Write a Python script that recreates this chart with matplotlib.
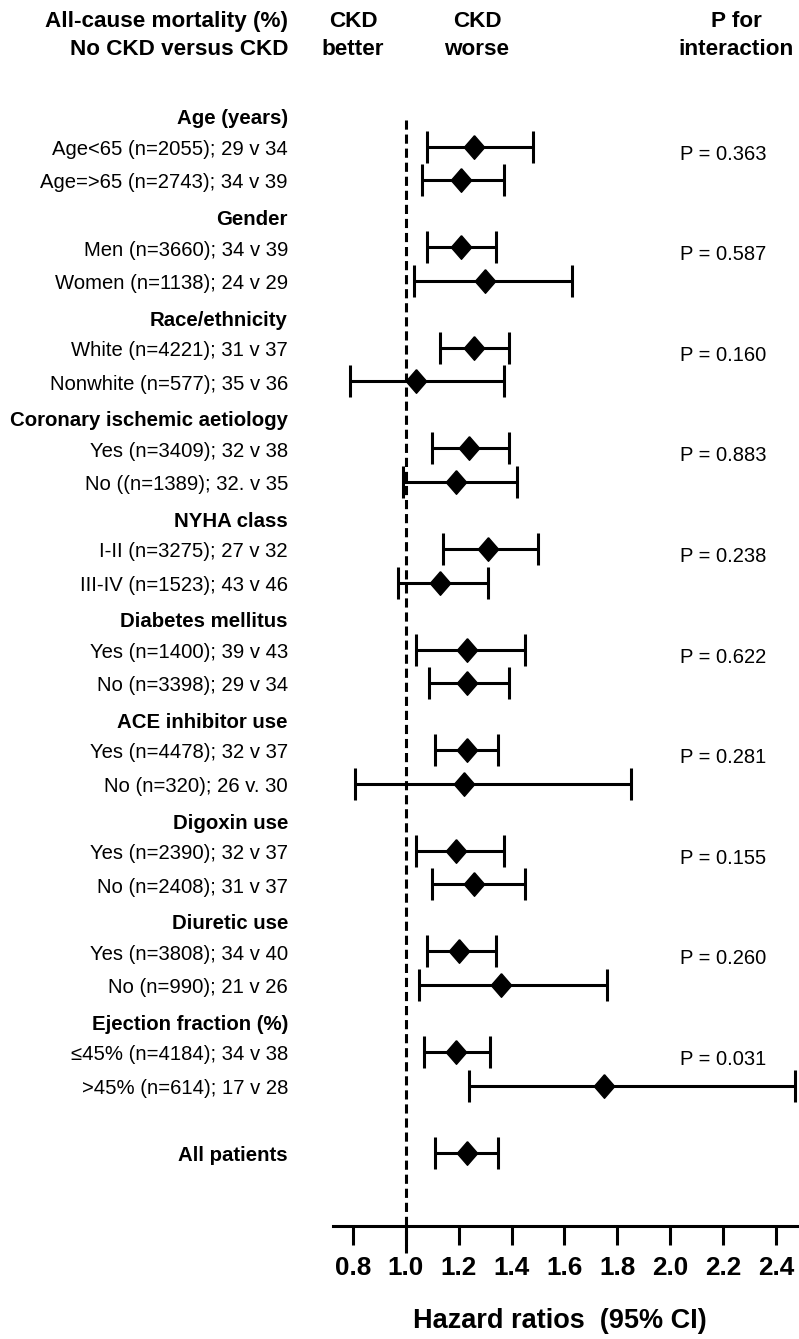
import matplotlib
matplotlib.use("Agg")
import matplotlib.pyplot as plt

plt.rcParams['font.family'] = ['Liberation Sans', 'DejaVu Sans']

# subgroup data
groups = ["Age (years)", "Gender", "Race/ethnicity", "Coronary ischemic aetiology",
          "NYHA class", "Diabetes mellitus", "ACE inhibitor use", "Digoxin use",
          "Diuretic use", "Ejection fraction (%)"]
sub_labels = [
    "Age<65 (n=2055); 29 v 34", "Age=>65 (n=2743); 34 v 39",
    "Men (n=3660); 34 v 39", "Women (n=1138); 24 v 29",
    "White (n=4221); 31 v 37", "Nonwhite (n=577); 35 v 36",
    "Yes (n=3409); 32 v 38", "No ((n=1389); 32. v 35",
    "I-II (n=3275); 27 v 32", "III-IV (n=1523); 43 v 46",
    "Yes (n=1400); 39 v 43", "No (n=3398); 29 v 34",
    "Yes (n=4478); 32 v 37", "No (n=320); 26 v. 30",
    "Yes (n=2390); 32 v 37", "No (n=2408); 31 v 37",
    "Yes (n=3808); 34 v 40", "No (n=990); 21 v 26",
    "\u226445% (n=4184); 34 v 38", ">45% (n=614); 17 v 28",
]
hr = [1.26, 1.21, 1.21, 1.30, 1.26, 1.04, 1.24, 1.19, 1.31, 1.13,
      1.23, 1.23, 1.23, 1.22, 1.19, 1.26, 1.20, 1.36, 1.19, 1.75]
ci_low = [1.08, 1.06, 1.08, 1.03, 1.13, 0.79, 1.10, 0.99, 1.14, 0.97,
          1.04, 1.09, 1.11, 0.81, 1.04, 1.10, 1.08, 1.05, 1.07, 1.24]
ci_high = [1.48, 1.37, 1.34, 1.63, 1.39, 1.37, 1.39, 1.42, 1.50, 1.31,
           1.45, 1.39, 1.35, 1.85, 1.37, 1.45, 1.34, 1.76, 1.32, 2.47]
p_values = ["0.363", "0.587", "0.160", "0.883", "0.238",
            "0.622", "0.281", "0.155", "0.260", "0.031"]
all_label = "All patients"
all_hr, all_low, all_high = 1.23, 1.11, 1.35
xticks = [0.8, 1.0, 1.2, 1.4, 1.6, 1.8, 2.0, 2.2, 2.4]

fig = plt.figure(figsize=(7.99, 13.39), dpi=100)
W, H = 799.0, 1339.0
ax = fig.add_axes([333 / W, 1 - 1225.7 / H, 466 / W, (1225.7 - 100) / H])

# row positions: each group takes 3 slots (header + 2 rows)
y_rows = []
for g in range(len(groups)):
    y_rows += [3 * g + 1, 3 * g + 2]
y_all = 3 * len(groups) + 1

diamond = [(0, 1.15), (1, 0), (0, -1.15), (-1, 0), (0, 1.15)]
style = dict(fmt='none', ecolor='black', elinewidth=2.2, capsize=11.5,
             capthick=2.2, clip_on=False)

lo = [h - l for h, l in zip(hr, ci_low)]
up = [u - h for h, u in zip(hr, ci_high)]
ax.errorbar(hr, y_rows, xerr=[lo, up], **style)
ax.plot(hr, y_rows, linestyle='none', marker=diamond, markersize=17,
        color='black', clip_on=False, zorder=3)
ax.errorbar([all_hr], [y_all], xerr=[[all_hr - all_low], [all_high - all_hr]], **style)
ax.plot([all_hr], [y_all], linestyle='none', marker=diamond, markersize=17,
        color='black', clip_on=False, zorder=3)

ax.plot([1.0, 1.0], [0.2, 34], color='black', linewidth=2.2,
        dashes=(3, 1.6), clip_on=False)

ax.set_xlim(0.7255, 2.486)
ax.set_ylim(33.18, -0.394)

trans = ax.get_yaxis_transform()
for g, name in enumerate(groups):
    ax.text(-0.0966, 3 * g + 0.17, name, transform=trans, ha='right', va='center',
            fontsize=14.7, fontweight='bold')
    ax.text(0.837, 3 * g + 1.22, "P = " + p_values[g], transform=trans,
            ha='center', va='center', fontsize=14.5)
for y, lab in zip(y_rows, sub_labels):
    ax.text(-0.0966, y + 0.08, lab, transform=trans, ha='right', va='center',
            fontsize=14.6)
ax.text(-0.0966, y_all + 0.08, all_label, transform=trans, ha='right', va='center',
        fontsize=14.7, fontweight='bold')

for s in ['top', 'right', 'left']:
    ax.spines[s].set_visible(False)
ax.spines['bottom'].set_linewidth(2.2)
ax.set_yticks([])
ax.set_xticks(xticks)
ax.set_xticklabels([f"{t:.1f}" for t in xticks], fontsize=18.8, fontweight='bold')
ax.tick_params(axis='x', length=14, width=2.2, pad=7.5)

# column headers
head = dict(fontsize=16.2, fontweight='bold', va='center', linespacing=1.42)
fig.text(288 / W, 1 - 35.5 / H, "All-cause mortality (%)\nNo CKD versus CKD",
         ha='right', multialignment='right', **head)
fig.text(353 / W, 1 - 35.5 / H, "CKD\nbetter", ha='center', **head)
fig.text(477 / W, 1 - 35.5 / H, "CKD\nworse", ha='center', **head)
fig.text(736 / W, 1 - 35.5 / H, "P for\ninteraction", ha='center', **head)

fig.text(560 / W, 1 - 1321 / H, "Hazard ratios  (95% CI)", ha='center', va='center',
         fontsize=19.5, fontweight='bold')

fig.savefig("out.png", dpi=100)
